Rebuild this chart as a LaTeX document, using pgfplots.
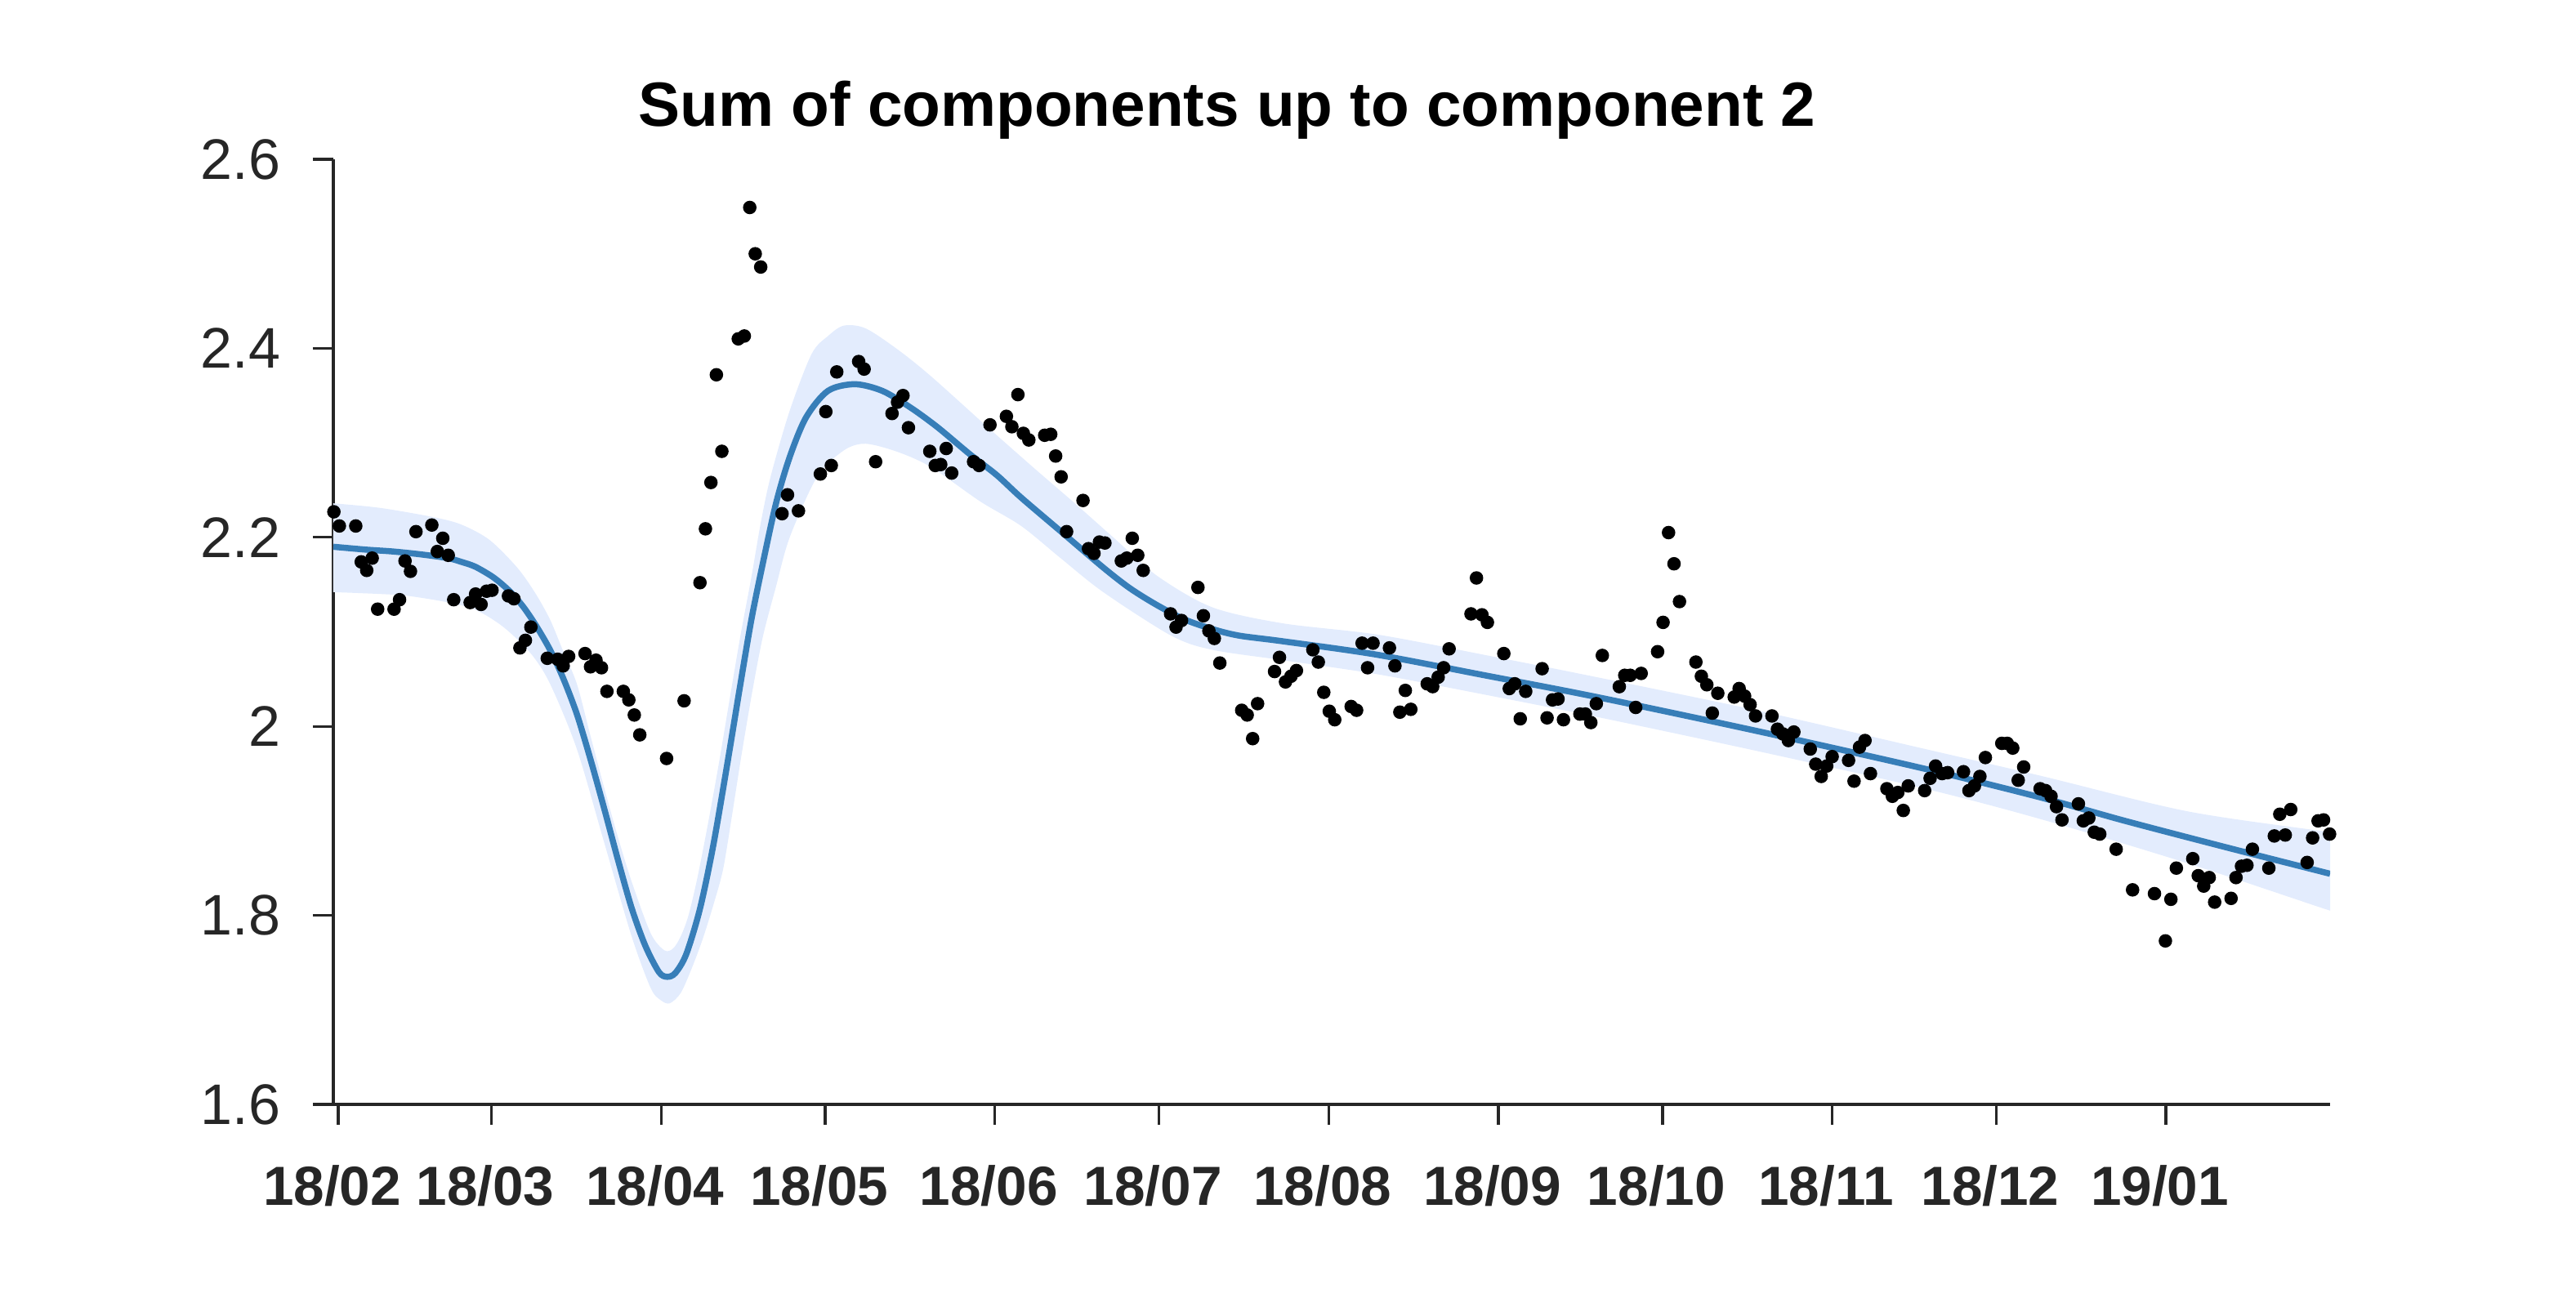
\documentclass[border=0pt]{standalone}
\usepackage{pgfplots}
\pgfplotsset{compat=1.18}
\usepackage{fontspec}
\setmainfont{Liberation Sans}
\definecolor{linec}{RGB}{55,126,184}
\definecolor{bandc}{RGB}{227,236,253}
\definecolor{axc}{RGB}{38,38,38}
\begin{document}
\begin{tikzpicture}
\path[use as bounding box] (-81.6pt,-45pt) rectangle (549pt,270.4pt);
\begin{axis}[
  at={(0pt,0pt)}, anchor=south west,
  scale only axis, width=488.8pt, height=231.4pt,
  xmin=-0.9, xmax=364, ymin=1.6, ymax=2.6,
  axis x line*=bottom, axis y line*=left,
  axis line style={axc, line width=0.67pt},
  tick style={axc, line width=0.67pt},
  tick align=outside, major tick length=5pt,
  xtick={0,28,59,89,120,150,181,212,242,273,303,334},
  xticklabels={18/02,18/03,18/04,18/05,18/06,18/07,18/08,18/09,18/10,18/11,18/12,19/01},
  ytick={1.6,1.8,2,2.2,2.4,2.6},
  yticklabels={1.6,1.8,2,2.2,2.4,2.6},
  xticklabel style={font=\fontsize{13.5}{16}\selectfont\bfseries, text=axc, anchor=north, inner sep=0pt, xshift=-1.5pt, yshift=-9.8pt},
  yticklabel style={font=\fontsize{14}{16}\selectfont, text=axc, anchor=east, inner sep=0pt, xshift=-7.8pt},
]
\addplot[fill=bandc, draw=none, smooth] coordinates {
(-3,2.237) (-0.9,2.236) (7.8,2.231) (17.7,2.221) (22.7,2.213) (27.7,2.197) (32.7,2.168) (36,2.141) (38.7,2.113) (41,2.081) (43.6,2.045) (46,1.992) (48.6,1.935) (51,1.885) (53.6,1.836) (57.1,1.781) (59.6,1.763) (61.2,1.765) (62.6,1.778) (64,1.800) (65.6,1.839) (67.5,1.895) (69.5,1.959) (71.5,2.028) (73.5,2.096) (75.5,2.158) (77.2,2.215) (79.0,2.264) (82.5,2.334) (86.5,2.394) (89.5,2.413) (92.4,2.424) (96.4,2.421) (102.4,2.398) (108.4,2.370) (118.4,2.318) (127,2.274) (134.8,2.235) (142,2.198) (149.7,2.159) (159.7,2.126) (172.6,2.109) (190,2.097) (210,2.075) (230,2.052) (260,2.016) (290,1.976) (311.6,1.947) (338,1.910) (364,1.888) (367,1.885)
(367,1.801) (364,1.805) (338,1.855) (311.6,1.901) (290,1.934) (260,1.973) (230,2.010) (210,2.033) (190,2.055) (172.6,2.070) (159.7,2.081) (152.2,2.096) (139.8,2.142) (132,2.178) (124.8,2.212) (117.3,2.238) (108.4,2.274) (102.4,2.290) (96.4,2.299) (92.4,2.292) (87.5,2.264) (82.5,2.200) (80,2.148) (77.6,2.095) (75.7,2.038) (73.7,1.970) (71.8,1.900) (70.3,1.848) (68.6,1.812) (66.6,1.775) (64.6,1.744) (62.6,1.718) (60.6,1.707) (59,1.710) (57.1,1.723) (53.6,1.778) (48.6,1.877) (43.6,1.976) (38.7,2.045) (35.2,2.077) (30.2,2.105) (25.2,2.123) (20.2,2.131) (12.8,2.138) (7.8,2.140) (-0.9,2.142) (-3,2.142)
};
\addplot[linec, line width=1.5pt, smooth] coordinates {
(-0.9,2.190) (5,2.187) (10,2.185) (15,2.182) (20,2.178) (22.5,2.174) (25,2.169) (28,2.159) (30,2.150) (32,2.139) (34,2.125) (36.2,2.106) (38.7,2.081) (41.1,2.051) (43.6,2.013) (46.1,1.965) (48.6,1.913) (51.1,1.859) (53.6,1.808) (56.1,1.768) (58.6,1.740) (60.1,1.735) (61.6,1.739) (63.6,1.759) (66.1,1.807) (68.5,1.873) (71,1.957) (73.5,2.045) (75.5,2.113) (77.5,2.170) (80,2.236) (82.5,2.285) (85.5,2.327) (89.5,2.355) (94.4,2.362) (99.4,2.355) (104.4,2.338) (109.4,2.317) (115.4,2.288) (120.3,2.266) (124.8,2.242) (132.3,2.205) (139.8,2.168) (144.7,2.146) (149.7,2.128) (154.7,2.113) (159.7,2.103) (164.6,2.096) (172.6,2.090) (189.6,2.076) (209.5,2.054) (230,2.031) (259.3,1.995) (290,1.955) (311.6,1.924) (326.5,1.900) (345,1.872) (364,1.844)
};
\addplot[only marks, mark=*, mark size=1.45pt, black] coordinates {
(-0.8,2.227) (0.2,2.212) (3.2,2.212) (4.2,2.174) (5.2,2.165) (6.2,2.178) (7.2,2.124) (10.2,2.124) (11.2,2.134) (12.2,2.175) (13.2,2.164) (14.2,2.206) (17.1,2.213) (18.1,2.185) (19.1,2.199) (20.1,2.181) (21.1,2.134) (24.1,2.131) (25.1,2.140) (26.1,2.129) (27.1,2.143) (28.1,2.144) (31.1,2.138) (32.1,2.135) (33.2,2.083) (34.2,2.091) (35.2,2.105) (38.2,2.072) (40.1,2.071) (41.1,2.064) (42.1,2.074) (45.1,2.077) (46.1,2.063) (47.1,2.070) (48.1,2.062) (49.1,2.037) (52.1,2.037) (53.1,2.028) (54.1,2.012) (55.1,1.991) (60.0,1.966) (63.2,2.027) (66.1,2.152) (67.1,2.209) (68.1,2.258) (69.1,2.372) (70.1,2.291) (73.1,2.410) (74.2,2.413) (75.2,2.549) (76.2,2.500) (77.2,2.486) (81.1,2.225) (82.1,2.245) (84.1,2.228) (88.1,2.267) (89.1,2.333) (90.1,2.276) (91.1,2.375) (95.1,2.386) (96.1,2.378) (98.2,2.280) (101.2,2.331) (102.2,2.343) (103.2,2.350) (104.2,2.316) (108.1,2.291) (109.1,2.276) (110.1,2.277) (111.1,2.294) (112.1,2.268) (116.1,2.280) (117.1,2.276)
(119.1,2.319) (122.1,2.328) (123.1,2.317) (124.2,2.351) (125.2,2.310) (126.2,2.303) (129.1,2.308) (130.2,2.309) (131.1,2.286) (132.1,2.264) (133.1,2.206) (136.1,2.239) (137.1,2.188) (138.1,2.183) (139.1,2.195) (140.1,2.194) (143.1,2.175) (144.1,2.178) (145.1,2.199) (146.1,2.181) (147.1,2.165) (152.1,2.119) (153.1,2.105) (154.1,2.112) (157.1,2.147) (158.1,2.117) (159.1,2.101) (160.1,2.093) (161.1,2.067) (165.1,2.017) (166.1,2.012) (167.1,1.987) (168.0,2.024) (171.1,2.058) (172.0,2.073)
(173.1,2.047) (174.1,2.053) (175.1,2.059) (178.1,2.081) (179.1,2.068) (180.1,2.036) (181.1,2.016) (182.1,2.007) (185.1,2.021) (186.1,2.017) (187.1,2.088) (188.1,2.062) (189.1,2.088) (192.1,2.083) (193.1,2.064) (194.0,2.015) (195.0,2.038) (196.0,2.018) (199.0,2.045) (200.0,2.042) (201.0,2.052) (202.0,2.062) (203.0,2.082) (207.0,2.119) (208.0,2.157) (209.0,2.118) (210.0,2.110) (213.0,2.077) (214.0,2.040) (215.0,2.045) (216.0,2.008) (217.0,2.037) (220.0,2.061) (220.9,2.009) (221.9,2.028) (222.9,2.029) (223.9,2.007) (226.9,2.013) (227.9,2.013) (228.9,2.004) (229.9,2.024) (231.0,2.075)
(234.1,2.042) (235.1,2.054) (236.1,2.054) (237.1,2.020) (238.1,2.056) (241.1,2.079) (242.1,2.110) (243.1,2.205) (244.1,2.172) (245.1,2.132) (248.1,2.068) (249.1,2.053) (250.1,2.044) (251.1,2.014) (252.1,2.035) (255.1,2.031) (256.0,2.040) (257.0,2.032) (258.0,2.023) (259.0,2.011) (262.0,2.011) (263.0,1.997) (264.0,1.992) (265.0,1.985) (266.0,1.994) (269.0,1.976) (270.0,1.960) (271.0,1.947) (272.0,1.958) (273.0,1.968) (276.0,1.964) (277.0,1.942) (278.0,1.978) (279.0,1.985) (280.0,1.950) (283.0,1.934) (284.0,1.926) (285.0,1.930) (286.0,1.911) (286.9,1.937) (289.9,1.932) (290.9,1.945) (291.9,1.958)
(293.1,1.950) (294.1,1.951) (297.0,1.952) (298.0,1.932) (299.0,1.937) (300.0,1.947) (301.0,1.967) (304.0,1.982) (305.0,1.982) (306.0,1.977) (307.0,1.943) (308.0,1.957) (311.0,1.934) (312.0,1.932) (313.0,1.926) (314.0,1.915) (315.0,1.901) (318.0,1.918) (318.9,1.900) (319.9,1.903) (320.9,1.888) (321.9,1.886) (324.9,1.870) (327.9,1.827) (331.9,1.823) (333.9,1.773) (334.9,1.817) (335.9,1.850) (338.9,1.860) (339.9,1.842) (340.9,1.831) (341.9,1.840) (342.9,1.814) (345.9,1.818) (346.8,1.840) (347.8,1.852) (348.8,1.853) (349.8,1.870) (352.8,1.850) (353.8,1.884) (354.8,1.907) (355.8,1.885) (356.8,1.912) (359.8,1.856) (360.8,1.882) (361.8,1.900) (362.8,1.901) (363.9,1.886)
};
\end{axis}
\node[anchor=base, font=\fontsize{15.3}{18}\selectfont\bfseries] at (218.8pt,239.4pt) {Sum of components up to component 2};
\end{tikzpicture}
\end{document}
